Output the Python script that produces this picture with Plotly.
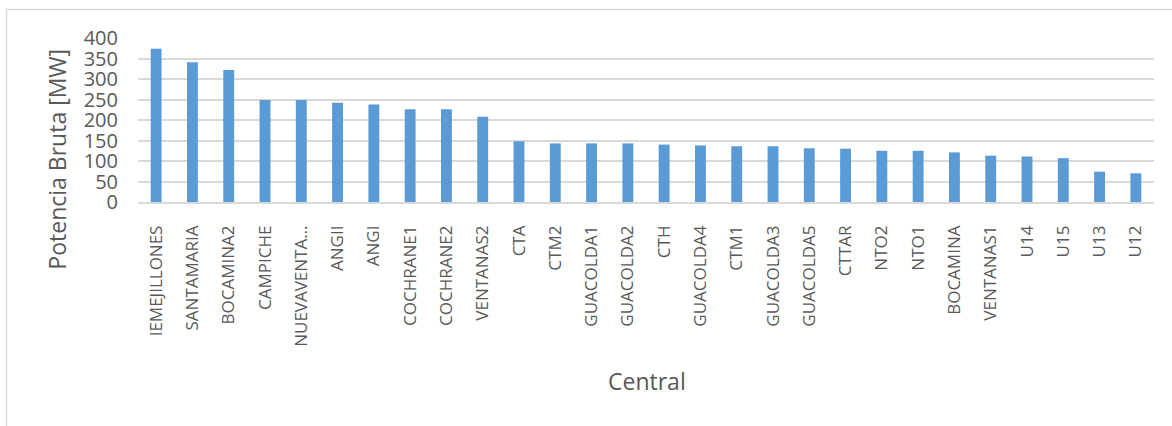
import plotly.graph_objects as go

centrales = ["IEMEJILLONES", "SANTAMARIA", "BOCAMINA2", "CAMPICHE", "NUEVAVENTA…",
             "ANGII", "ANGI", "COCHRANE1", "COCHRANE2", "VENTANAS2", "CTA", "CTM2",
             "GUACOLDA1", "GUACOLDA2", "CTH", "GUACOLDA4", "CTM1", "GUACOLDA3",
             "GUACOLDA5", "CTTAR", "NTO2", "NTO1", "BOCAMINA", "VENTANAS1",
             "U14", "U15", "U13", "U12"]
potencia = [374, 341, 322, 249, 249, 242, 238, 226, 226, 208, 148, 143,
            143, 143, 140, 138, 136, 136, 131, 130, 125, 125, 121, 113,
            111, 107, 74, 70]
y_ticks = [0, 50, 100, 150, 200, 250, 300, 350, 400]

W, H = 1172, 426
L, R, T, B = 138, 18, 38, 223.5
pw, ph = W - L - R, H - T - B

def px(x):
    return (x - L) / pw

def py(y):
    return (H - B - y) / ph

txt = "#595959"
font = "Open Sans"

fig = go.Figure(go.Bar(x=centrales, y=potencia, marker=dict(color="#5b9bd5", line=dict(width=0))))

fig.update_layout(
    width=W, height=H,
    margin=dict(l=L, r=R, t=T, b=B, pad=0),
    paper_bgcolor="white", plot_bgcolor="white",
    bargap=0.7, showlegend=False,
    font=dict(family=font, color=txt),
)
fig.update_xaxes(
    type="category", tickangle=-90, tickfont=dict(size=17, family=font, color=txt),
    showgrid=False, showline=True, linecolor="#d9d9d9", linewidth=1.5,
    ticks="", ticklabelstandoff=15,
)
fig.update_yaxes(
    range=[0, 400], tickvals=y_ticks, tickfont=dict(size=20, family=font, color=txt),
    showgrid=True, gridcolor="#d9d9d9", gridwidth=1.5, zeroline=False,
    showline=False, ticks="", ticklabelstandoff=19,
)

fig.add_annotation(text="Potencia Bruta [MW]", textangle=-90, xref="paper", yref="paper",
                   x=px(57), y=py(160), showarrow=False, xanchor="center", yanchor="middle",
                   font=dict(size=23, family=font, color=txt))
fig.add_annotation(text="Central", xref="paper", yref="paper",
                   x=px(646.5), y=py(382), showarrow=False, xanchor="center", yanchor="middle",
                   font=dict(size=23, family=font, color=txt))

fig.add_shape(type="rect", xref="paper", yref="paper",
              x0=px(6.5), x1=px(W + 20), y0=py(H + 20), y1=py(9.5),
              line=dict(color="#d9d9d9", width=1.5), fillcolor="rgba(0,0,0,0)", layer="below")

fig.write_html("out.html")
